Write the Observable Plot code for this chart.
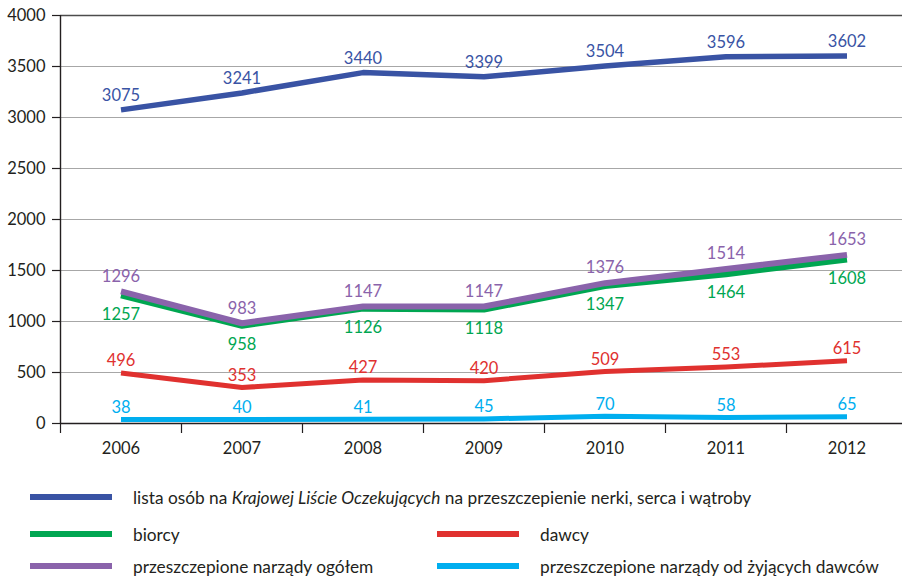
<!DOCTYPE html>
<html><head><meta charset="utf-8">
<script src="https://cdn.jsdelivr.net/npm/d3@7"></script>
<script src="https://cdn.jsdelivr.net/npm/@observablehq/plot@0.6"></script>
<style>
body{margin:0;background:#fff;font-family:Lato,"Open Sans",sans-serif;}
#wrap{position:relative;width:902px;height:576px;}
.lg{position:absolute;display:flex;align-items:center;font-size:17.3px;color:#231f20;white-space:nowrap;}
.sw{width:82px;height:6px;margin-right:21px;}
</style></head>
<body><div id="wrap"></div>
<script>
const years = [2006, 2007, 2008, 2009, 2010, 2011, 2012];
const lista = [3075, 3241, 3440, 3399, 3504, 3596, 3602];
const biorcy = [1257, 958, 1126, 1118, 1347, 1464, 1608];
const ogolem = [1296, 983, 1147, 1147, 1376, 1514, 1653];
const dawcy = [496, 353, 427, 420, 509, 553, 615];
const zywi = [38, 40, 41, 45, 70, 58, 65];
const yTicks = [0, 500, 1000, 1500, 2000, 2500, 3000, 3500, 4000];
const seriesNames = [
  "lista osób na <i>Krajowej Liście Oczekujących</i> na przeszczepienie nerki, serca i wątroby",
  "biorcy", "dawcy", "przeszczepione narządy ogółem", "przeszczepione narządy od żyjących dawców"
];
const colors = {lista:"#3953a4", biorcy:"#00a651", dawcy:"#e0312f", ogolem:"#8a63ab", zywi:"#00aeef"};

const mk = (vals) => years.map((y, i) => ({year: y, v: vals[i]}));
const dL = mk(lista), dB = mk(biorcy), dO = mk(ogolem), dD = mk(dawcy), dZ = mk(zywi);
const bounds = years.map(y => y - 0.5);
const fmt = d3.format("d");
const font = {fontSize: 16.5, fontFamily: "Lato"};

const lineOpts = (c, w) => ({x: "year", y: "v", stroke: c, strokeWidth: w, strokeLinecap: "butt", strokeLinejoin: "round"});
const lab = (data, c, dy) => Plot.text(data, {x: "year", y: "v", text: d => fmt(d.v), fill: c, dy, ...font});

const chart = Plot.plot({
  width: 902, height: 460,
  marginTop: 15, marginBottom: 37, marginLeft: 60, marginRight: 0,
  style: {fontFamily: "Lato", fontSize: "16px", color: "#231f20", background: "#fff"},
  x: {type: "linear", domain: [2005.5, 2012.5], range: [60, 907]},
  y: {domain: [0, 4000]},
  marks: [
    Plot.ruleY(yTicks.filter(t => t > 0 && t < 4000), {stroke: "#a7a7a7", strokeWidth: 1.2}),
    Plot.ruleY([4000], {stroke: "#4d4d4d", strokeWidth: 1.4}),
    Plot.ruleY([0], {stroke: "#231f20", strokeWidth: 1.4}),
    Plot.ruleX([2005.5], {y1: 0, y2: 4000, stroke: "#231f20", strokeWidth: 1.4}),
    Plot.axisY({ticks: yTicks, tickSize: 8, tickPadding: 7, tickFormat: fmt, label: null, fontSize: 16.5, stroke: "#231f20", strokeWidth: 1.2}),
    Plot.axisX({ticks: bounds, tickSize: 10, tickFormat: () => "", label: null, stroke: "#231f20", strokeWidth: 1.2}),
    Plot.axisX({ticks: years, tickSize: 0, tickPadding: 19, tickFormat: fmt, label: null, fontSize: 16.5}),
    Plot.line(dZ, lineOpts(colors.zywi, 5)),
    Plot.line(dD, lineOpts(colors.dawcy, 5)),
    Plot.line(dB, lineOpts(colors.biorcy, 6)),
    Plot.line(dO, lineOpts(colors.ogolem, 6)),
    Plot.line(dL, lineOpts(colors.lista, 5.5)),
    lab(dL, colors.lista, -14),
    lab(dO, colors.ogolem, -15),
    lab(dB, colors.biorcy, 19),
    lab(dD, colors.dawcy, -12),
    lab(dZ, colors.zywi, -12)
  ]
});
const wrap = document.getElementById("wrap");
wrap.appendChild(chart);

const legendItems = [
  {name: seriesNames[0], c: colors.lista, x: 30, y: 497},
  {name: seriesNames[1], c: colors.biorcy, x: 30, y: 534},
  {name: seriesNames[2], c: colors.dawcy, x: 437, y: 534},
  {name: seriesNames[3], c: colors.ogolem, x: 30, y: 566},
  {name: seriesNames[4], c: colors.zywi, x: 437, y: 566}
];
for (const it of legendItems) {
  const el = document.createElement("div");
  el.className = "lg";
  el.style.left = it.x + "px";
  el.style.top = (it.y - 10) + "px";
  el.style.height = "20px";
  el.innerHTML = `<span class="sw" style="background:${it.c}"></span><span>${it.name}</span>`;
  wrap.appendChild(el);
}
</script></body></html>
